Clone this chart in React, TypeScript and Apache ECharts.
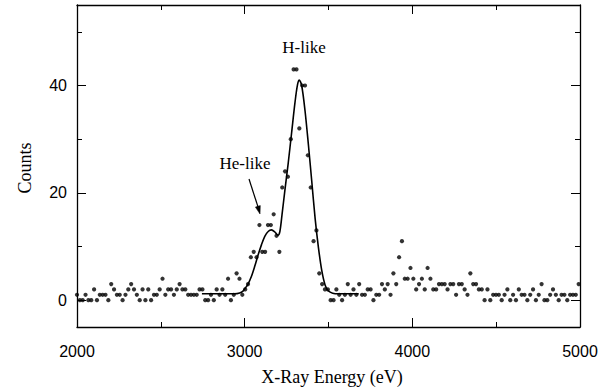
import React, { useEffect, useRef } from "react";
import * as echarts from "echarts";

// Channel energies (eV) of the measured spectrum
const energies = [
  2000, 2017, 2034, 2051, 2068, 2085, 2102, 2119, 2136, 2153,
  2170, 2187, 2204, 2221, 2238, 2255, 2272, 2289, 2306, 2323,
  2340, 2357, 2374, 2391, 2408, 2425, 2442, 2459, 2476, 2493,
  2510, 2527, 2544, 2561, 2578, 2595, 2612, 2629, 2646, 2663,
  2680, 2697, 2714, 2731, 2748, 2765, 2782, 2799, 2816, 2833,
  2850, 2867, 2884, 2901, 2918, 2935, 2952, 2969, 2986, 3003,
  3020, 3037, 3054, 3071, 3088, 3105, 3122, 3139, 3156, 3173,
  3190, 3207, 3224, 3241, 3258, 3275, 3292, 3309, 3326, 3343,
  3360, 3377, 3394, 3411, 3428, 3445, 3462, 3479, 3496, 3513,
  3530, 3547, 3564, 3581, 3598, 3615, 3632, 3649, 3666, 3683,
  3700, 3717, 3734, 3751, 3768, 3785, 3802, 3819, 3836, 3853,
  3870, 3887, 3904, 3921, 3938, 3955, 3972, 3989, 4006, 4023,
  4040, 4057, 4074, 4091, 4108, 4125, 4142, 4159, 4176, 4193,
  4210, 4227, 4244, 4261, 4278, 4295, 4312, 4329, 4346, 4363,
  4380, 4397, 4414, 4431, 4448, 4465, 4482, 4499, 4516, 4533,
  4550, 4567, 4584, 4601, 4618, 4635, 4652, 4669, 4686, 4703,
  4720, 4737, 4754, 4771, 4788, 4805, 4822, 4839, 4856, 4873,
  4890, 4907, 4924, 4941, 4958, 4975, 4992,
];

// Measured counts per channel
const counts = [
  1, 0, 0, 1, 0, 0, 2, 0, 1, 1,
  1, 0, 3, 2, 1, 1, 0, 1, 2, 3,
  2, 1, 0, 2, 0, 2, 0, 1, 1, 2,
  4, 1, 2, 2, 1, 2, 3, 2, 2, 1,
  1, 1, 1, 2, 2, 0, 0, 1, 0, 2,
  1, 2, 1, 4, 0, 1, 5, 4, 1, 2,
  3, 8, 9, 8, 14, 9, 9, 14, 14, 16,
  12, 9, 21, 24, 23, 30, 43, 43, 32, 40,
  40, 27, 21, 11, 13, 5, 3, 2, 2, 0,
  0, 2, 1, 0, 1, 3, 1, 2, 1, 3,
  1, 1, 2, 2, 0, 1, 1, 3, 2, 3,
  1, 5, 3, 8, 11, 4, 4, 6, 4, 2,
  3, 4, 2, 6, 4, 2, 2, 3, 3, 3,
  2, 3, 3, 1, 3, 3, 2, 1, 5, 3,
  3, 2, 2, 0, 2, 0, 1, 1, 1, 0,
  1, 2, 0, 1, 0, 2, 1, 1, 0, 1,
  2, 0, 1, 3, 0, 0, 1, 2, 1, 0,
  1, 1, 0, 1, 1, 1, 3,
];

// Fitted curve
const fitEnergies = [
  2745, 2850, 2940, 2970, 2990, 3005, 3020, 3040, 3060, 3080,
  3100, 3120, 3140, 3160, 3180, 3198, 3210, 3223, 3240, 3260,
  3280, 3300, 3315, 3326, 3340, 3360, 3380, 3400, 3420, 3440,
  3460, 3480, 3500, 3525, 3560, 3680,
];
const fitCounts = [
  1.2, 1.2, 1.2, 1.35, 1.7, 2.3, 3.0, 4.4, 6.3, 8.4,
  10.3, 11.9, 12.8, 13.1, 12.7, 12.1, 12.8, 16.0, 20.5, 25.6,
  31.2, 36.8, 40.1, 41.0, 40.0, 35.3, 29.0, 22.2, 15.3, 9.8,
  5.5, 2.8, 1.7, 1.3, 1.2, 1.2,
];

const yMajorTicks = [0, 20, 40];
const yMinorTicks = [10, 30, 50];

const SERIF = "'Liberation Serif', 'DejaVu Serif', serif";
const SANS = "'Liberation Sans', Arial, sans-serif";

export default function App() {
  const ref = useRef<HTMLDivElement>(null);

  useEffect(() => {
    if (!ref.current) return;
    const chart = echarts.init(ref.current, null, { renderer: "svg" });

    const axisLineStyle = { color: "#000", width: 1.3 };
    const baseX = {
      type: "value" as const,
      min: 2000,
      max: 5000,
      interval: 1000,
      splitLine: { show: false },
      axisLine: { show: true, onZero: false, lineStyle: axisLineStyle },
      axisTick: { show: true, inside: true, length: 9, lineStyle: { color: "#000", width: 1 } },
      minorTick: { show: true, splitNumber: 2, length: 5, lineStyle: { color: "#000", width: 1 } },
    };
    const baseY = {
      type: "value" as const,
      min: -5,
      max: 55,
      splitLine: { show: false },
    };

    const option: any = {
      animation: false,
      backgroundColor: "#fff",
      grid: { left: 77, right: 30, top: 5, bottom: 65, containLabel: false },
      xAxis: [
        {
          ...baseX,
          position: "bottom",
          axisLabel: {
            show: true,
            margin: 16,
            fontFamily: SANS,
            fontSize: 16,
            color: "#000",
            formatter: (v: number) => String(v),
          },
        },
        {
          ...baseX,
          position: "top",
          axisLabel: { show: false },
        },
      ],
      yAxis: [
        {
          ...baseY,
          position: "left",
          axisLine: { show: true, onZero: false, lineStyle: axisLineStyle },
          axisTick: {
            show: true,
            inside: true,
            length: 9,
            customValues: yMajorTicks,
            lineStyle: { color: "#000", width: 1 },
          },
          axisLabel: {
            show: true,
            customValues: yMajorTicks,
            margin: 10,
            fontFamily: SANS,
            fontSize: 16,
            color: "#000",
            formatter: (v: number) => String(v),
          },
        },
        {
          ...baseY,
          position: "left",
          axisLine: { show: false },
          axisTick: {
            show: true,
            inside: true,
            length: 5,
            customValues: yMinorTicks,
            lineStyle: { color: "#000", width: 1 },
          },
          axisLabel: { show: false },
        },
        {
          ...baseY,
          position: "right",
          axisLine: { show: true, onZero: false, lineStyle: axisLineStyle },
          axisTick: {
            show: true,
            inside: true,
            length: 9,
            customValues: yMajorTicks,
            lineStyle: { color: "#000", width: 1 },
          },
          axisLabel: { show: false },
        },
        {
          ...baseY,
          position: "right",
          axisLine: { show: false },
          axisTick: {
            show: true,
            inside: true,
            length: 5,
            customValues: yMinorTicks,
            lineStyle: { color: "#000", width: 1 },
          },
          axisLabel: { show: false },
        },
      ],
      series: [
        {
          name: "Counts",
          type: "scatter",
          xAxisIndex: 0,
          yAxisIndex: 0,
          symbol: "circle",
          symbolSize: 4.2,
          itemStyle: { color: "#000" },
          data: energies.map((e, i) => [e, counts[i]]),
          z: 3,
        },
        {
          name: "Fit",
          type: "line",
          xAxisIndex: 0,
          yAxisIndex: 0,
          showSymbol: false,
          symbol: "none",
          smooth: 0.3,
          lineStyle: { color: "#000", width: 1.6 },
          data: fitEnergies.map((e, i) => [e, fitCounts[i]]),
          z: 2,
        },
      ],
      graphic: [
        {
          type: "text",
          x: 304,
          y: 47,
          style: {
            text: "H-like",
            fontFamily: SERIF,
            fontSize: 17,
            fill: "#000",
            textAlign: "center",
            textVerticalAlign: "middle",
          },
        },
        {
          type: "text",
          x: 245,
          y: 163,
          style: {
            text: "He-like",
            fontFamily: SERIF,
            fontSize: 17,
            fill: "#000",
            textAlign: "center",
            textVerticalAlign: "middle",
          },
        },
        {
          type: "line",
          shape: { x1: 249, y1: 179, x2: 258.2, y2: 207.5 },
          style: { stroke: "#000", lineWidth: 1.2 },
        },
        {
          type: "polygon",
          shape: { points: [[260, 214], [260.3, 205.6], [255.4, 207.1]] },
          style: { fill: "#000", stroke: "#000", lineWidth: 0.5 },
        },
        {
          type: "text",
          x: 25,
          y: 168,
          rotation: Math.PI / 2,
          style: {
            text: "Counts",
            fontFamily: SERIF,
            fontSize: 18,
            fill: "#000",
            textAlign: "center",
            textVerticalAlign: "middle",
          },
        },
        {
          type: "text",
          x: 332,
          y: 377,
          style: {
            text: "X-Ray Energy (eV)",
            fontFamily: SERIF,
            fontSize: 18,
            fill: "#000",
            textAlign: "center",
            textVerticalAlign: "middle",
          },
        },
      ],
    };

    chart.setOption(option);
    return () => chart.dispose();
  }, []);

  return (
    <div
      ref={ref}
      style={{ position: "fixed", left: 0, top: 0, width: 610, height: 392, background: "#fff" }}
    />
  );
}
